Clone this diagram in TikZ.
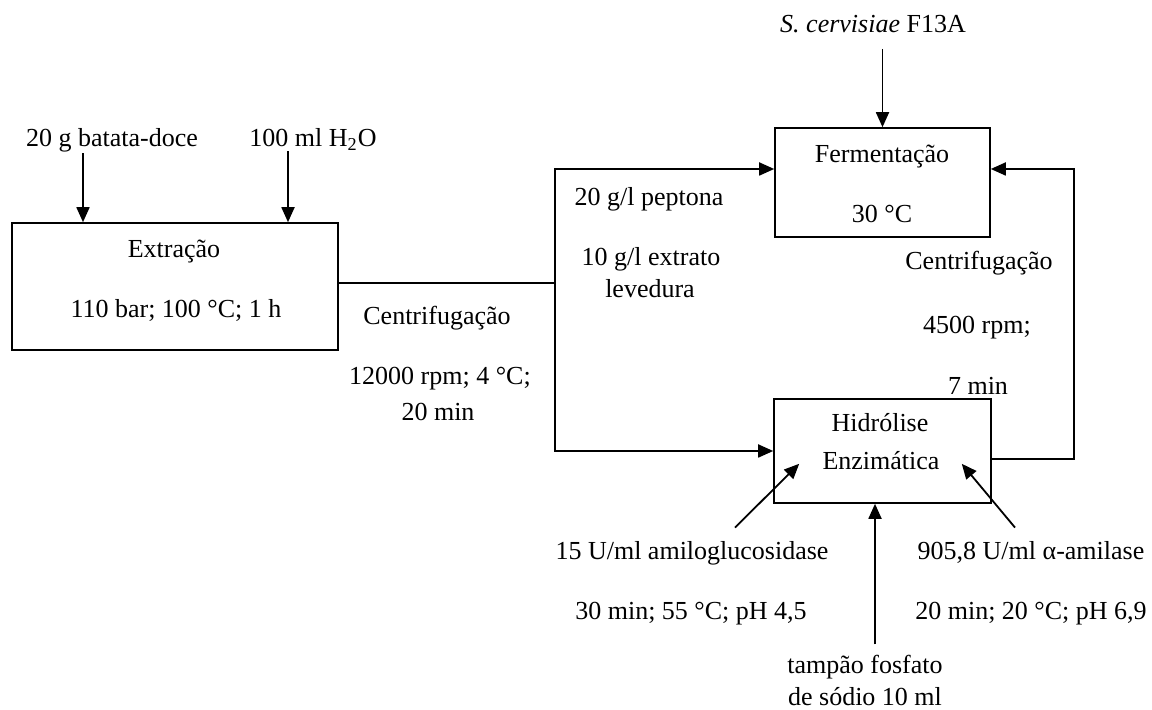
\documentclass[tikz,border=0pt]{standalone}
\usepackage{fontspec}
\setmainfont{Liberation Serif}
\usetikzlibrary{arrows.meta,positioning,calc}

\begin{document}
\begin{tikzpicture}[x=0.5pt,y=-0.5pt,
    every node/.style={font=\fontsize{13}{15}\selectfont},
    lbl/.style={anchor=base,inner sep=0pt},
    stage/.style={draw,line width=0.8pt,inner sep=0pt},
    link/.style={line width=0.9pt},
    flow/.style={link,-{Triangle[length=7.5pt,width=6.5pt]}}]
  \useasboundingbox (0,0) rectangle (1152,710);

  % process stages
  \node[stage,minimum width=163pt,minimum height=63.5pt] (ext) at (175,286.5) {};
  \node[stage,minimum width=107.5pt,minimum height=54.5pt] (ferm) at (882.5,182.5) {};
  \node[stage,minimum width=108.5pt,minimum height=52pt] (hid) at (882.5,451) {};

  \node[lbl] (extA) at (174,258) {Extração};
  \node[lbl] (extB) at (176,318) {110 bar; 100 °C; 1 h};
  \node[lbl] (fermA) at (882,163) {Fermentação};
  \node[lbl] (fermB) at (882,223) {30 °C};
  \node[lbl] (hidA) at (880,432) {Hidrólise};
  \node[lbl] (hidB) at (881,470) {Enzimática};

  % inputs
  \node[lbl] (batata) at (112,147) {20 g batata-doce};
  \node[lbl] (agua) at (313,147) {100 ml H\textsubscript{2}O};
  \node[lbl] (cerv) at (873,33) {\textit{S. cervisiae} F13A};
  \node[lbl] (pept) at (649,206) {20 g/l peptona};
  \node[lbl] (extr) at (651,266) {10 g/l extrato};
  \node[lbl] (lev) at (650,298) {levedura};
  \node[lbl] (amilo) at (692,560) {15 U/ml amiloglucosidase};
  \node[lbl] (amiloC) at (691,620) {30 min; 55 °C; pH 4,5};
  \node[lbl] (alfa) at (1031,560) {905,8 U/ml α-amilase};
  \node[lbl] (alfaC) at (1031,620) {20 min; 20 °C; pH 6,9};
  \node[lbl] (tamp) at (865,674) {tampão fosfato};
  \node[lbl] (sod) at (865,706) {de sódio 10 ml};

  % centrifugation conditions
  \node[lbl] (centA) at (437,325) {Centrifugação};
  \node[lbl] (centB) at (440,385) {12000 rpm; 4 °C;};
  \node[lbl] (centC) at (438,421) {20 min};
  \node[lbl] (cenA) at (979,270) {Centrifugação};
  \node[lbl] (cenB) at (977,334) {4500 rpm;};
  \node[lbl] (cenC) at (978,395) {7 min};

  % feeds
  \draw[flow] (batata.south -| 83,0) -- (ext.north -| 83,0);
  \draw[flow] (agua.south -| 288,0) -- (ext.north -| 288,0);
  \draw[flow,shorten <=7.5pt] (cerv.south -| ferm.north) -- (ferm.north);
  \draw[flow] ($(amilo.north)+(43,-14)$) -- ($(hid.south west)+(26,-40)$);
  \draw[flow] ($(alfa.north)+(-16,-14)$) -- ($(hid.south east)+(-30,-40)$);
  \draw[flow,shorten <=5.5pt] (tamp.north -| 875,0) -- (hid.south -| 875,0);

  % main flow
  \coordinate (split) at (555,283);
  \draw[link] (ext.east |- split) -- (split);
  \draw[flow] (split) |- ([yshift=6.75pt]ferm.west);
  \draw[flow] (split) |- (hid.west);
  \draw[flow] ([yshift=-4pt]hid.east) -- ++(41pt,0) |- ([yshift=6.75pt]ferm.east);
\end{tikzpicture}
\end{document}
